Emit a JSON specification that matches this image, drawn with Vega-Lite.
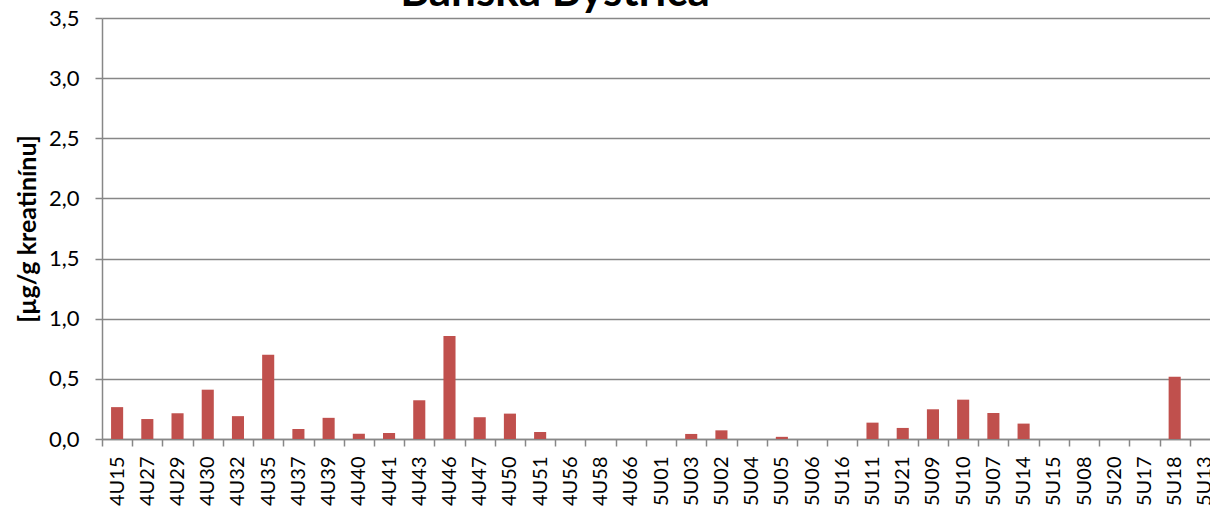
{
  "$schema": "https://vega.github.io/schema/vega-lite/v6.json",
  "autosize": {"type": "none"},
  "padding": {"left": 102, "top": 18, "right": 0, "bottom": 69},
  "width": 1108,
  "height": 421,
  "background": "white",
  "title": {
    "text": "Banská Bystrica",
    "font": "Lato",
    "fontSize": 44,
    "fontWeight": "bold",
    "color": "#000000",
    "anchor": "middle",
    "frame": "group",
    "baseline": "alphabetic",
    "offset": -43,
    "dx": -101
  },
  "data": {
    "values": [
      {"id": "4U15", "v": 0.265},
      {"id": "4U27", "v": 0.166},
      {"id": "4U29", "v": 0.214},
      {"id": "4U30", "v": 0.41},
      {"id": "4U32", "v": 0.19},
      {"id": "4U35", "v": 0.70},
      {"id": "4U37", "v": 0.083},
      {"id": "4U39", "v": 0.176},
      {"id": "4U40", "v": 0.043},
      {"id": "4U41", "v": 0.05},
      {"id": "4U43", "v": 0.322},
      {"id": "4U46", "v": 0.857},
      {"id": "4U47", "v": 0.181},
      {"id": "4U50", "v": 0.211},
      {"id": "4U51", "v": 0.058},
      {"id": "4U56", "v": 0},
      {"id": "4U58", "v": 0},
      {"id": "4U66", "v": 0},
      {"id": "5U01", "v": 0},
      {"id": "5U03", "v": 0.042},
      {"id": "5U02", "v": 0.072},
      {"id": "5U04", "v": 0},
      {"id": "5U05", "v": 0.018},
      {"id": "5U06", "v": 0},
      {"id": "5U16", "v": 0},
      {"id": "5U11", "v": 0.136},
      {"id": "5U21", "v": 0.092},
      {"id": "5U09", "v": 0.247},
      {"id": "5U10", "v": 0.327},
      {"id": "5U07", "v": 0.216},
      {"id": "5U14", "v": 0.128},
      {"id": "5U15", "v": 0},
      {"id": "5U08", "v": 0},
      {"id": "5U20", "v": 0},
      {"id": "5U17", "v": 0},
      {"id": "5U18", "v": 0.518},
      {"id": "5U13", "v": 0}
    ]
  },
  "mark": {"type": "bar", "color": "#C0504D", "width": {"band": 0.4}},
  "encoding": {
    "x": {
      "field": "id",
      "type": "nominal",
      "sort": null,
      "scale": {"range": [0, 1118], "paddingInner": 0, "paddingOuter": 0},
      "axis": {
        "title": null,
        "labelAngle": 270,
        "labelFont": "Lato",
        "labelFontSize": 20,
        "labelColor": "#000000",
        "labelPadding": 10,
        "labelOverlap": false,
        "tickSize": 7,
        "tickBand": "extent",
        "tickColor": "#878787",
        "tickWidth": 1.5,
        "domainColor": "#878787",
        "domainWidth": 1.5
      }
    },
    "y": {
      "field": "v",
      "type": "quantitative",
      "scale": {"domain": [0, 3.5], "nice": false},
      "axis": {
        "values": [0, 0.5, 1, 1.5, 2, 2.5, 3, 3.5],
        "labelExpr": "replace(format(datum.value, '.1f'), '.', ',')",
        "labelFont": "Lato",
        "labelFontSize": 22,
        "labelColor": "#000000",
        "labelPadding": 16,
        "tickSize": 7,
        "tickColor": "#878787",
        "tickWidth": 1.5,
        "domainColor": "#878787",
        "domainWidth": 1.5,
        "grid": true,
        "gridColor": "#878787",
        "gridWidth": 1.5,
        "title": "[µg/g kreatinínu]",
        "titleFont": "Lato",
        "titleFontSize": 25,
        "titleFontWeight": "bold",
        "titleColor": "#000000",
        "titlePadding": 8
      }
    }
  },
  "config": {"view": {"stroke": null}}
}
